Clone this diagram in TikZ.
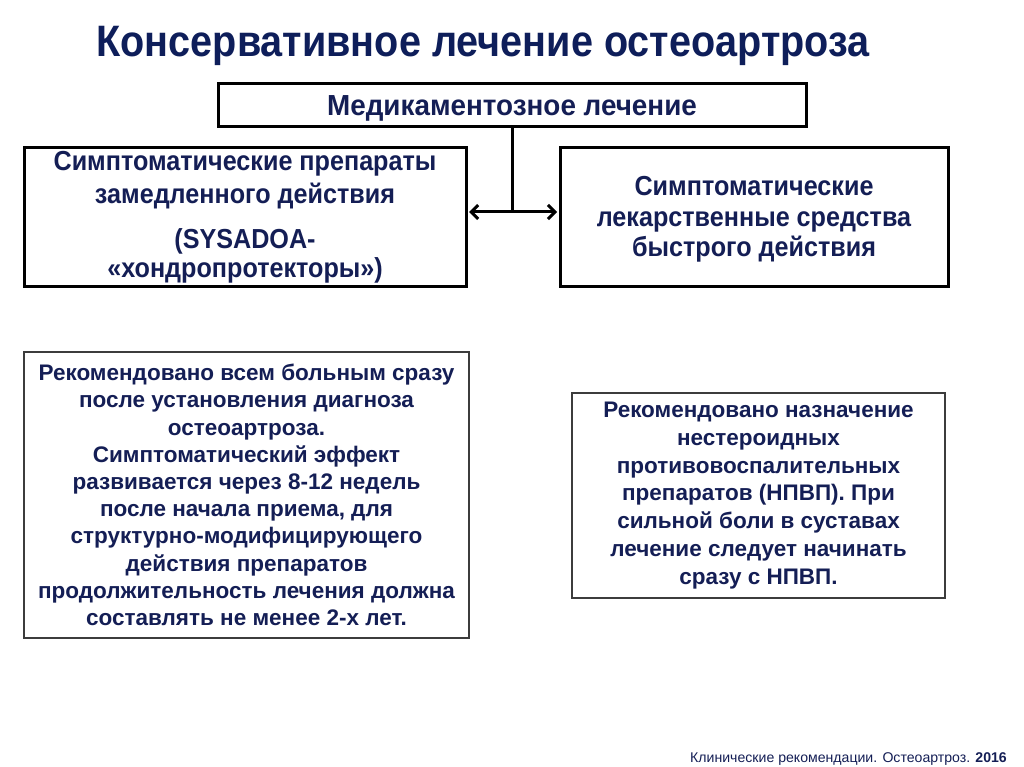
\documentclass[tikz,border=0pt]{standalone}
\usepackage{fontspec}
\setmainfont{Liberation Sans}
\newfontfamily\narrowfont[FakeStretch=0.915]{Liberation Sans}
\newfontfamily\medfont[FakeStretch=0.96]{Liberation Sans}
\newfontfamily\titlefont[FakeStretch=0.9]{Liberation Sans}
\usetikzlibrary{arrows.meta}
\definecolor{navy}{RGB}{20,30,85}
\definecolor{titlenavy}{RGB}{14,30,90}
\definecolor{frame}{RGB}{60,60,60}
\tikzset{
  topbox/.style={draw=black, line width=3pt, fill=white, align=center, text=navy, inner sep=0pt},
  lowbox/.style={draw=frame, line width=1.3pt, fill=white, align=center, text=navy, inner sep=0pt},
  link/.style={draw=black, line width=3pt},
  duo/.style={link, {Straight Barb[length=7pt,width=14pt,line width=3pt]}-{Straight Barb[length=7pt,width=14pt,line width=3pt]}}
}
\begin{document}
\begin{tikzpicture}[x=1pt,y=-1pt]
\useasboundingbox[fill=white] (0,0) rectangle (1024,767);

\node[text=titlenavy, font=\titlefont\bfseries\fontsize{44}{48}\selectfont, anchor=base] (title) at (483,57) {Консервативное лечение остеоартроза};

\node[topbox, minimum width=588pt, minimum height=43pt, font=\medfont\bfseries\fontsize{29}{32}\selectfont] (med) at (512,105.5) {\raisebox{-3pt}[\height][\depth]{Медикаментозное лечение}};

\node[topbox, minimum width=442pt, minimum height=138pt, font=\narrowfont\bfseries\fontsize{27.5}{31}\selectfont] (slow) at (245,217) {Симптоматические препараты\\[2pt]замедленного действия\\[14pt](SYSADOA-\\[-2pt]«хондропротекторы»)};

\node[topbox, minimum width=388pt, minimum height=138pt, font=\narrowfont\bfseries\fontsize{27.5}{30.5}\selectfont] (fast) at (754,217) {\raisebox{-3pt}[\height][\depth]{\begin{tabular}{@{}c@{}}Симптоматические\\лекарственные средства\\быстрого действия\end{tabular}}};

\coordinate (j) at (512,212);
\draw[link] (med.south) -- (j);
\draw[duo, shorten <=1.5pt, shorten >=1.5pt] (slow.east |- j) -- (fast.west |- j);

\node[lowbox, minimum width=445pt, minimum height=286pt, font=\bfseries\fontsize{22.5}{27.2}\selectfont] (recL) at (246.5,495) {Рекомендовано всем больным сразу\\после установления диагноза\\остеоартроза.\\Симптоматический эффект\\развивается через 8-12 недель\\после начала приема, для\\структурно-модифицирующего\\действия препаратов\\продолжительность лечения должна\\составлять не менее 2-х лет.};

\node[lowbox, minimum width=373pt, minimum height=205pt, font=\bfseries\fontsize{22.5}{27.8}\selectfont] (recR) at (758.5,495.5) {Рекомендовано назначение\\нестероидных\\противовоспалительных\\препаратов (НПВП). При\\сильной боли в суставах\\лечение следует начинать\\сразу с НПВП.};

\node[text=navy, font=\fontsize{14.1}{16}\selectfont, anchor=base east, inner sep=0pt] (src) at (1007,762) {Клинические рекомендации. Остеоартроз. \textbf{2016}};
\end{tikzpicture}
\end{document}
